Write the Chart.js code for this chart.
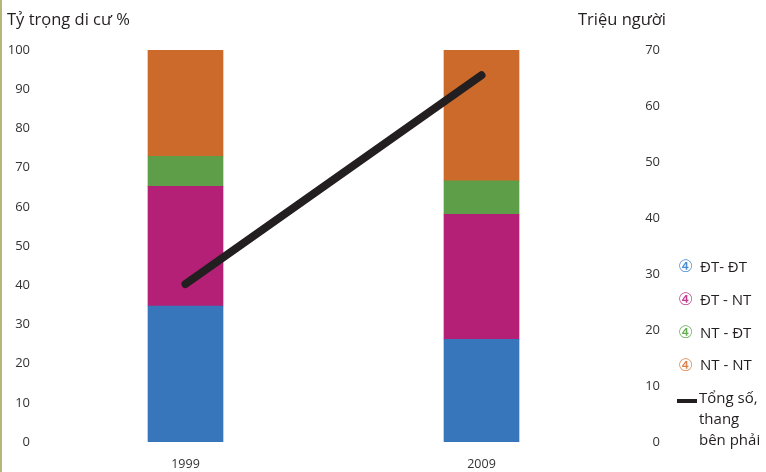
<!DOCTYPE html>
<html>
<head>
<meta charset="utf-8">
<script src="https://cdn.jsdelivr.net/npm/chart.js@4"></script>
<style>
  html, body { margin: 0; padding: 0; background: #fff; }
  body { width: 766px; height: 472px; position: relative; overflow: hidden; }
  #edge { position: absolute; left: 0; top: 0; width: 2px; height: 472px; background: #b4b77a; }
  canvas { position: absolute; left: 0; top: 0; }
</style>
</head>
<body>
<div id="edge"></div>
<canvas id="chart" width="766" height="472"></canvas>
<script>
// Data
const years = ['1999', '2009'];
const dtdt = [34.7, 26.2];   // ĐT- ĐT
const dtnt = [30.5, 31.9];   // ĐT - NT
const ntdt = [7.7, 8.5];     // NT - ĐT
const ntnt = [27.1, 33.4];   // NT - NT
const total = [28.2, 65.5];  // Tổng số, triệu người (right scale)

const leftTicks = [0, 10, 20, 30, 40, 50, 60, 70, 80, 90, 100];
const rightTicks = [0, 10, 20, 30, 40, 50, 60, 70];

const colors = {
  dtdt: '#3776bb',
  dtnt: '#b52077',
  ntdt: '#5e9e49',
  ntnt: '#cc6a2c',
  total: '#231f20'
};

const legendItems = [
  { label: 'ĐT- ĐT', color: '#4b8dd2' },
  { label: 'ĐT - NT', color: '#c23a8d' },
  { label: 'NT - ĐT', color: '#65ab52' },
  { label: 'NT - NT', color: '#dc844c' }
];

const FONT = '"Open Sans", "Noto Sans", sans-serif';

// axis titles + custom legend
const extras = {
  id: 'extras',
  afterDraw(chart) {
    const ctx = chart.ctx;
    ctx.save();
    ctx.fillStyle = '#231f20';
    ctx.textBaseline = 'alphabetic';
    ctx.font = '16.5px ' + FONT;
    ctx.textAlign = 'left';
    ctx.fillText('Tỷ trọng di cư %', 7, 25);
    ctx.fillText('Triệu người', 578, 25);

    ctx.textBaseline = 'middle';
    let y = 268;
    legendItems.forEach(item => {
      ctx.font = '17px "DejaVu Sans", ' + FONT;
      ctx.fillStyle = item.color;
      ctx.fillText('④', 678, y);
      ctx.font = '15px ' + FONT;
      ctx.fillStyle = '#231f20';
      ctx.fillText(item.label, 700, y);
      y += 32.7;
    });

    ctx.strokeStyle = colors.total;
    ctx.lineWidth = 4;
    ctx.beginPath();
    ctx.moveTo(677, 401);
    ctx.lineTo(697, 401);
    ctx.stroke();
    ctx.font = '15px ' + FONT;
    ctx.fillText('Tổng số,', 699, 399);
    ctx.fillText('thang', 699, 420);
    ctx.fillText('bên phải', 699, 441);
    ctx.restore();
  }
};

new Chart(document.getElementById('chart'), {
  data: {
    labels: years,
    datasets: [
      { type: 'line', label: 'Tổng số, thang bên phải', data: total, yAxisID: 'y1',
        borderColor: colors.total, borderWidth: 8, borderCapStyle: 'round',
        pointRadius: 0, order: 0 },
      { type: 'bar', label: 'ĐT- ĐT', data: dtdt, backgroundColor: colors.dtdt, yAxisID: 'y', order: 1, barThickness: 75 },
      { type: 'bar', label: 'ĐT - NT', data: dtnt, backgroundColor: colors.dtnt, yAxisID: 'y', order: 1, barThickness: 75 },
      { type: 'bar', label: 'NT - ĐT', data: ntdt, backgroundColor: colors.ntdt, yAxisID: 'y', order: 1, barThickness: 75 },
      { type: 'bar', label: 'NT - NT', data: ntnt, backgroundColor: colors.ntnt, yAxisID: 'y', order: 1, barThickness: 75 }
    ]
  },
  options: {
    responsive: false,
    animation: false,
    layout: { padding: { top: 50, right: 106, bottom: 0, left: 0 } },
    plugins: { legend: { display: false }, tooltip: { enabled: false } },
    scales: {
      x: {
        stacked: true,
        grid: { display: false, drawTicks: false },
        border: { display: false },
        ticks: { color: '#333', font: { family: FONT, size: 12.5 }, padding: 15 },
        afterFit(scale) { scale.height = 30; }
      },
      y: {
        stacked: true,
        position: 'left',
        min: 0, max: 100,
        grid: { display: false, drawTicks: false },
        border: { display: false },
        afterBuildTicks(scale) { scale.ticks = leftTicks.map(v => ({ value: v })); },
        ticks: { color: '#333', font: { family: FONT, size: 13 }, padding: 7.5 },
        afterFit(scale) { scale.width = 37.5; }
      },
      y1: {
        position: 'right',
        min: 0, max: 70,
        grid: { display: false, drawTicks: false },
        border: { display: false },
        afterBuildTicks(scale) { scale.ticks = rightTicks.map(v => ({ value: v })); },
        ticks: { color: '#333', font: { family: FONT, size: 13 }, padding: 5, crossAlign: 'far' },
        afterFit(scale) { scale.width = 30.5; }
      }
    }
  },
  plugins: [extras]
});
</script>
</body>
</html>
